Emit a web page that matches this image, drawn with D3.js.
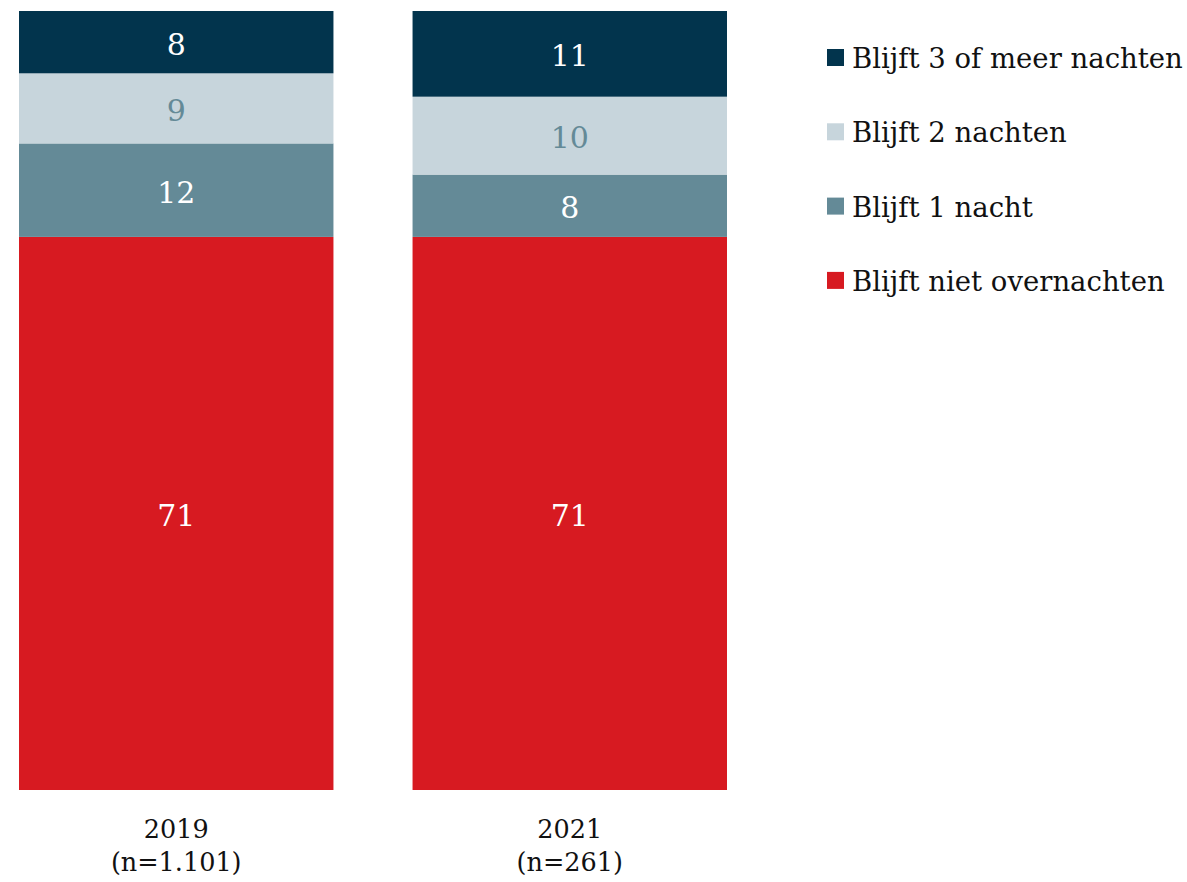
<!DOCTYPE html>
<html>
<head>
<meta charset="utf-8">
<script src="https://cdn.jsdelivr.net/npm/d3@7"></script>
<style>
  body { margin: 0; background: #fff; }
  svg text { font-family: Georgia, "DejaVu Serif", serif; }
</style>
</head>
<body>
<div id="chart"></div>
<script>
// data
const years = ["2019", "2021"];
const sampleSizes = ["(n=1.101)", "(n=261)"];
const seriesNames = ["Blijft niet overnachten", "Blijft 1 nacht", "Blijft 2 nachten", "Blijft 3 of meer nachten"];
const nietOvernachten = [71, 71];
const eenNacht = [12, 8];
const tweeNachten = [9, 10];
const drieOfMeer = [8, 11];

const colors = ["#d71a21", "#648a97", "#c7d5dc", "#02344d"];
const labelColors = ["#fff", "#fff", "#648a97", "#fff"];

const width = 1187, height = 882;

const svg = d3.select("#chart").append("svg")
  .attr("width", width)
  .attr("height", height);

const rows = years.map((y, i) => ({
  year: y,
  n: sampleSizes[i],
  [seriesNames[0]]: nietOvernachten[i],
  [seriesNames[1]]: eenNacht[i],
  [seriesNames[2]]: tweeNachten[i],
  [seriesNames[3]]: drieOfMeer[i]
}));

const stack = d3.stack().keys(seriesNames);
const series = stack(rows);

const x = d3.scaleBand()
  .domain(years)
  .range([19, 727])
  .paddingInner(0.201)
  .paddingOuter(0);

const y = d3.scaleLinear()
  .domain([0, 100])
  .range([790, 11]);

const layers = svg.selectAll("g.layer")
  .data(series)
  .join("g")
  .attr("class", "layer");

layers.selectAll("rect")
  .data(d => d.map(p => ({ p, key: d.key, idx: d.index })))
  .join("rect")
  .attr("x", d => x(d.p.data.year))
  .attr("width", x.bandwidth())
  .attr("y", d => y(d.p[1]))
  .attr("height", d => y(d.p[0]) - y(d.p[1]))
  .attr("fill", d => colors[d.idx]);

layers.selectAll("text")
  .data(d => d.map(p => ({ p, key: d.key, idx: d.index })))
  .join("text")
  .attr("x", d => x(d.p.data.year) + x.bandwidth() / 2)
  .attr("y", d => (y(d.p[0]) + y(d.p[1])) / 2 + 2)
  .attr("text-anchor", "middle")
  .attr("dominant-baseline", "central")
  .attr("font-size", "30px")
  .attr("fill", d => labelColors[d.idx])
  .text(d => d.p[1] - d.p[0]);

// category labels under the bars
const xLabels = svg.append("g");
years.forEach((yr, i) => {
  const cx = x(yr) + x.bandwidth() / 2;
  const t = xLabels.append("text")
    .attr("x", cx)
    .attr("y", 838)
    .attr("text-anchor", "middle")
    .attr("font-size", "25.5px")
    .attr("fill", "#111");
  t.append("tspan").attr("x", cx).text(yr);
  t.append("tspan").attr("x", cx).attr("dy", "1.3em").text(sampleSizes[i]);
});

// legend, top series first
const legendOrder = seriesNames.map((s, i) => i).reverse();
const legend = svg.append("g").attr("transform", "translate(827,57)");
legendOrder.forEach((si, j) => {
  const g = legend.append("g").attr("transform", `translate(0,${j * 74.3})`);
  g.append("rect")
    .attr("x", 0)
    .attr("y", -8)
    .attr("width", 17)
    .attr("height", 17)
    .attr("fill", colors[si]);
  g.append("text")
    .attr("x", 25)
    .attr("y", 1)
    .attr("dominant-baseline", "central")
    .attr("font-size", "27.5px")
    .attr("fill", "#111")
    .text(seriesNames[si]);
});
</script>
</body>
</html>
